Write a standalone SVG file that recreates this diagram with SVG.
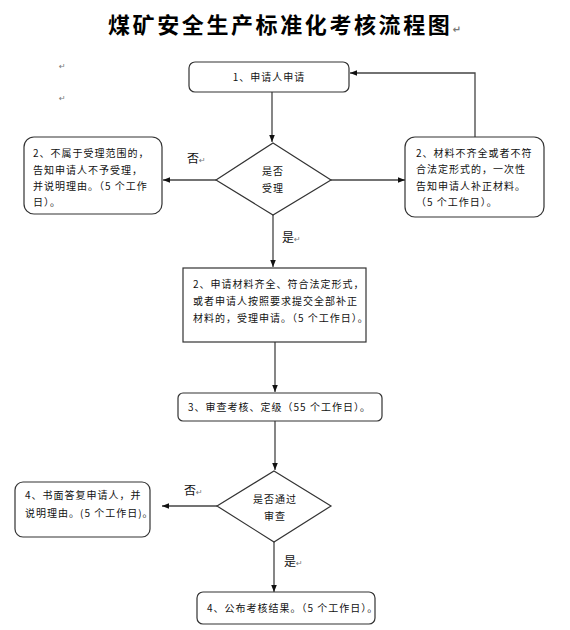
<svg xmlns="http://www.w3.org/2000/svg" width="570" height="630" viewBox="0 0 570 630">
<style>
.bg{fill:#fff}
.box{fill:#fff;stroke:#333;stroke-width:1.2}
.t{font-family:"Noto Sans CJK SC","Noto Sans",sans-serif;font-size:10px;fill:#111;letter-spacing:1px}
.c{text-anchor:middle}
.lab{font-family:"Noto Sans CJK SC","Noto Sans",sans-serif;font-size:12px;fill:#111}
.pm{font-family:"DejaVu Sans",sans-serif;font-size:8px;fill:#777}
.title{font-family:"Noto Sans CJK SC",sans-serif;font-size:22px;font-weight:bold;fill:#000;letter-spacing:2.6px}
.ln{fill:none;stroke:#444;stroke-width:1.3}
</style>
<defs>
<marker id="ah" viewBox="0 0 10 10" refX="10" refY="5" markerWidth="7" markerHeight="7" orient="auto" markerUnits="userSpaceOnUse">
<path d="M0,1 L10,5 L0,9 z" fill="#111"/>
</marker>
</defs>
<rect class="bg" width="570" height="630"/>
<text class="title" x="108" y="33">煤矿安全生产标准化考核流程图<tspan class="pm" dx="0" style="font-size:10px">↵</tspan></text>
<text class="pm" x="59" y="69">↵</text>
<text class="pm" x="59" y="101">↵</text>

<g id="connectors">
<path class="ln" d="M272,92 V142" marker-end="url(#ah)"/>
<path class="ln" d="M475,137 V73 H350" marker-end="url(#ah)"/>
<path class="ln" d="M216,180 H163" marker-end="url(#ah)"/>
<path class="ln" d="M331,180 H405" marker-end="url(#ah)"/>
<path class="ln" d="M273,215 V267" marker-end="url(#ah)"/>
<path class="ln" d="M275,342 V392" marker-end="url(#ah)"/>
<path class="ln" d="M275,421 V470" marker-end="url(#ah)"/>
<path class="ln" d="M217,506 H162" marker-end="url(#ah)"/>
<path class="ln" d="M274,542 V592" marker-end="url(#ah)"/>
<text class="lab" x="187" y="163">否<tspan class="pm">↵</tspan></text>
<text class="lab" x="282" y="242">是<tspan class="pm">↵</tspan></text>
<text class="lab" x="184" y="495">否<tspan class="pm">↵</tspan></text>
<text class="lab" x="284" y="566">是<tspan class="pm">↵</tspan></text>
</g>

<g id="n1">
<rect class="box" x="189" y="62" width="160" height="30" rx="6"/>
<text class="t c" x="269" y="81">1、申请人申请</text>
</g>
<g id="d1">
<polygon class="box" points="273,143 331,180 273,215 216,180"/>
<text class="t c" x="273" y="175">是否</text>
<text class="t c" x="273" y="192">受理</text>
</g>
<g id="n2a">
<rect class="box" x="24" y="137" width="138" height="77" rx="10"/>
<text class="t" x="33" y="157">2、不属于受理范围的，</text>
<text class="t" x="33" y="174">告知申请人不予受理，</text>
<text class="t" x="33" y="190">并说明理由。（5 个工作</text>
<text class="t" x="33" y="206">日）。</text>
</g>
<g id="n2b">
<rect class="box" x="405" y="137" width="139" height="80" rx="10"/>
<text class="t" x="416" y="157">2、材料不齐全或者不符</text>
<text class="t" x="416" y="173">合法定形式的，一次性</text>
<text class="t" x="416" y="190">告知申请人补正材料。</text>
<text class="t" x="416" y="206">（5 个工作日）。</text>
</g>
<g id="n2c">
<rect class="box" x="183" y="268" width="183" height="74" rx="0"/>
<text class="t" x="193" y="288">2、申请材料齐全、符合法定形式，</text>
<text class="t" x="193" y="305">或者申请人按照要求提交全部补正</text>
<text class="t" x="193" y="322">材料的，受理申请。（5 个工作日）。</text>
</g>
<g id="n3">
<rect class="box" x="178" y="393" width="204" height="28" rx="5"/>
<text class="t" x="188" y="411">3、审查考核、定级（55 个工作日）。</text>
</g>
<g id="d2">
<polygon class="box" points="274,471 331,506 274,542 217,506"/>
<text class="t c" x="275" y="503">是否通过</text>
<text class="t c" x="275" y="520">审查</text>
</g>
<g id="n4a">
<rect class="box" x="15" y="482" width="135" height="55" rx="8"/>
<text class="t" x="25" y="499">4、书面答复申请人，并</text>
<text class="t" x="25" y="517">说明理由。(5 个工作日)。</text>
</g>
<g id="n4b">
<rect class="box" x="197" y="592" width="178" height="32" rx="6"/>
<text class="t" x="207" y="612">4、公布考核结果。（5 个工作日）。</text>
</g>
</svg>
